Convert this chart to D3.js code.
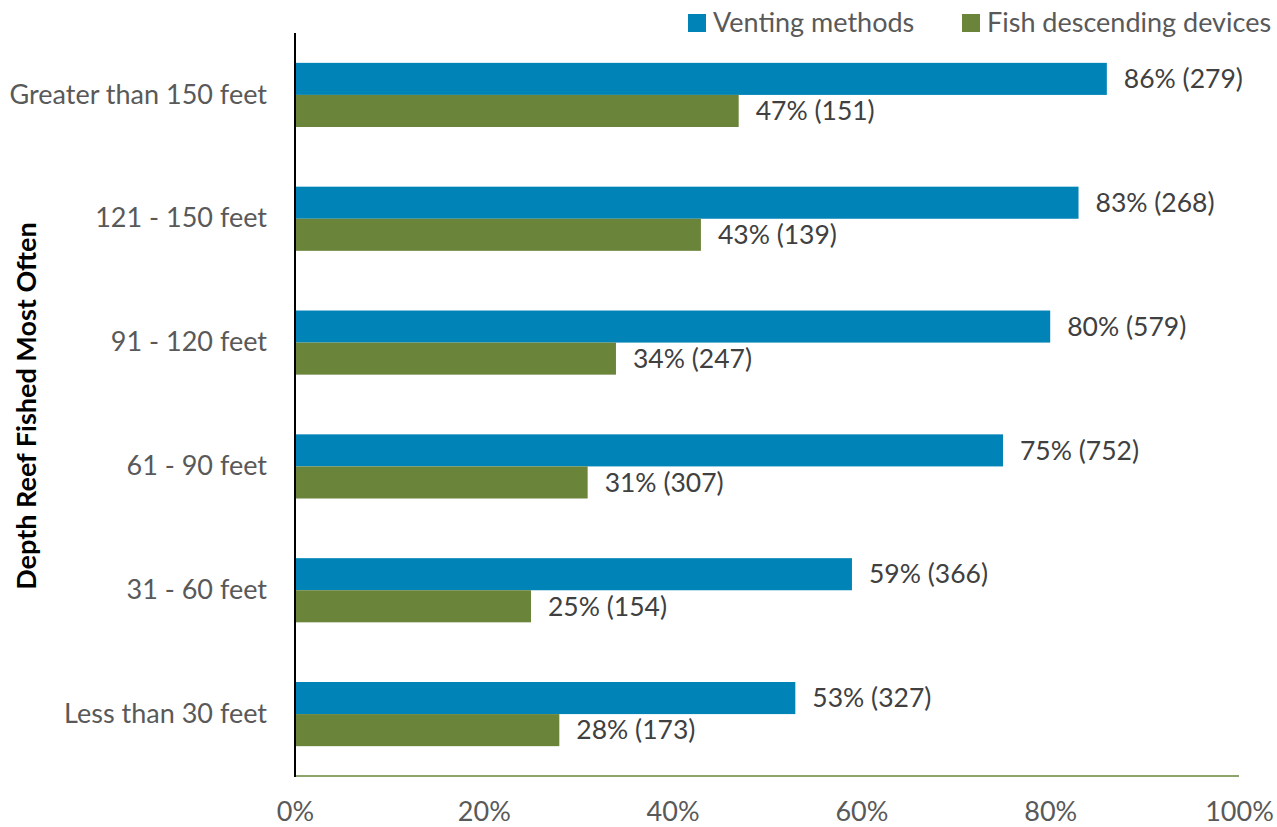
<!DOCTYPE html>
<html>
<head>
<meta charset="utf-8">
<script src="https://cdn.jsdelivr.net/npm/d3@7/dist/d3.min.js"></script>
<style>
  html, body { margin: 0; padding: 0; background: #fff; }
  svg { display: block; font-family: Lato, "Open Sans", sans-serif; }
</style>
</head>
<body>
<svg id="chart" width="1277" height="827"></svg>
<script>
// Depth categories, top to bottom
const categories = ["Greater than 150 feet", "121 - 150 feet", "91 - 120 feet", "61 - 90 feet", "31 - 60 feet", "Less than 30 feet"];
const seriesNames = ["Venting methods", "Fish descending devices"];
const ventingPct = [86, 83, 80, 75, 59, 53];
const ventingN = [279, 268, 579, 752, 366, 327];
const descendingPct = [47, 43, 34, 31, 25, 28];
const descendingN = [151, 139, 247, 307, 154, 173];
const xTicks = [0, 20, 40, 60, 80, 100];
const colors = ["#0084B8", "#6A843A"];

const fontSize = 27;
const fontFamily = "Lato, 'Open Sans', sans-serif";

const svg = d3.select("#chart");
const plotLeft = 295, plotRight = 1239, plotTop = 33, plotBottom = 776;

const x = d3.scaleLinear().domain([0, 100]).range([plotLeft, plotRight]);
const y = d3.scaleBand().domain(categories).range([plotTop, plotBottom]).paddingInner(0.482).paddingOuter(0.241);
const sub = d3.scaleBand().domain(seriesNames).range([0, y.bandwidth()]);

const rows = categories.map((c, i) => ({
  cat: c,
  vals: [
    { s: seriesNames[0], p: ventingPct[i], n: ventingN[i], c: colors[0] },
    { s: seriesNames[1], p: descendingPct[i], n: descendingN[i], c: colors[1] }
  ]
}));

const g = svg.append("g").selectAll("g").data(rows).join("g")
  .attr("transform", d => `translate(0,${y(d.cat)})`);

g.selectAll("rect").data(d => d.vals).join("rect")
  .attr("x", x(0))
  .attr("y", d => sub(d.s))
  .attr("width", d => x(d.p) - x(0))
  .attr("height", sub.bandwidth())
  .attr("fill", d => d.c);

g.selectAll("text.val").data(d => d.vals).join("text")
  .attr("class", "val")
  .attr("x", d => x(d.p) + 17)
  .attr("y", d => sub(d.s) + sub.bandwidth() / 2)
  .attr("dy", "0.35em")
  .attr("font-size", 26.5)
  .attr("fill", "#404040")
  .text(d => `${d.p}% (${d.n})`);

// Category labels
const yAxis = d3.axisLeft(y).tickSize(0).tickPadding(28);
const ya = svg.append("g").attr("transform", `translate(${plotLeft},0)`).call(yAxis);
ya.select(".domain").remove();
ya.selectAll("text").attr("font-size", fontSize).attr("fill", "#595959").attr("font-family", fontFamily);

// X axis tick labels
const xAxis = d3.axisBottom(x).tickValues(xTicks).tickFormat(d => d + "%").tickSize(0).tickPadding(26);
const xa = svg.append("g").attr("transform", `translate(0,${plotBottom})`).call(xAxis);
xa.select(".domain").remove();
xa.selectAll("text").attr("font-size", fontSize).attr("fill", "#595959").attr("font-family", fontFamily);

// Axis lines
svg.append("line").attr("x1", plotLeft).attr("x2", plotRight).attr("y1", plotBottom).attr("y2", plotBottom)
  .attr("stroke", "#8FA46A").attr("stroke-width", 2);
svg.append("line").attr("x1", plotLeft).attr("x2", plotLeft).attr("y1", plotTop).attr("y2", plotBottom + 1)
  .attr("stroke", "#000").attr("stroke-width", 2);

// Y axis title
svg.append("text")
  .attr("transform", `translate(36,406) rotate(-90)`)
  .attr("text-anchor", "middle")
  .attr("font-size", 27)
  .attr("font-weight", "bold")
  .attr("fill", "#000")
  .text("Depth Reef Fished Most Often");

// Legend
const legendX = [688, 962];
const lg = svg.append("g").selectAll("g").data(seriesNames).join("g")
  .attr("transform", (d, i) => `translate(${legendX[i]},14)`);
lg.append("rect").attr("width", 18).attr("height", 18).attr("fill", (d, i) => colors[i]);
lg.append("text").attr("x", 25).attr("y", 9).attr("dy", "0.35em")
  .attr("font-size", fontSize).attr("fill", "#595959").text(d => d);
</script>
</body>
</html>
